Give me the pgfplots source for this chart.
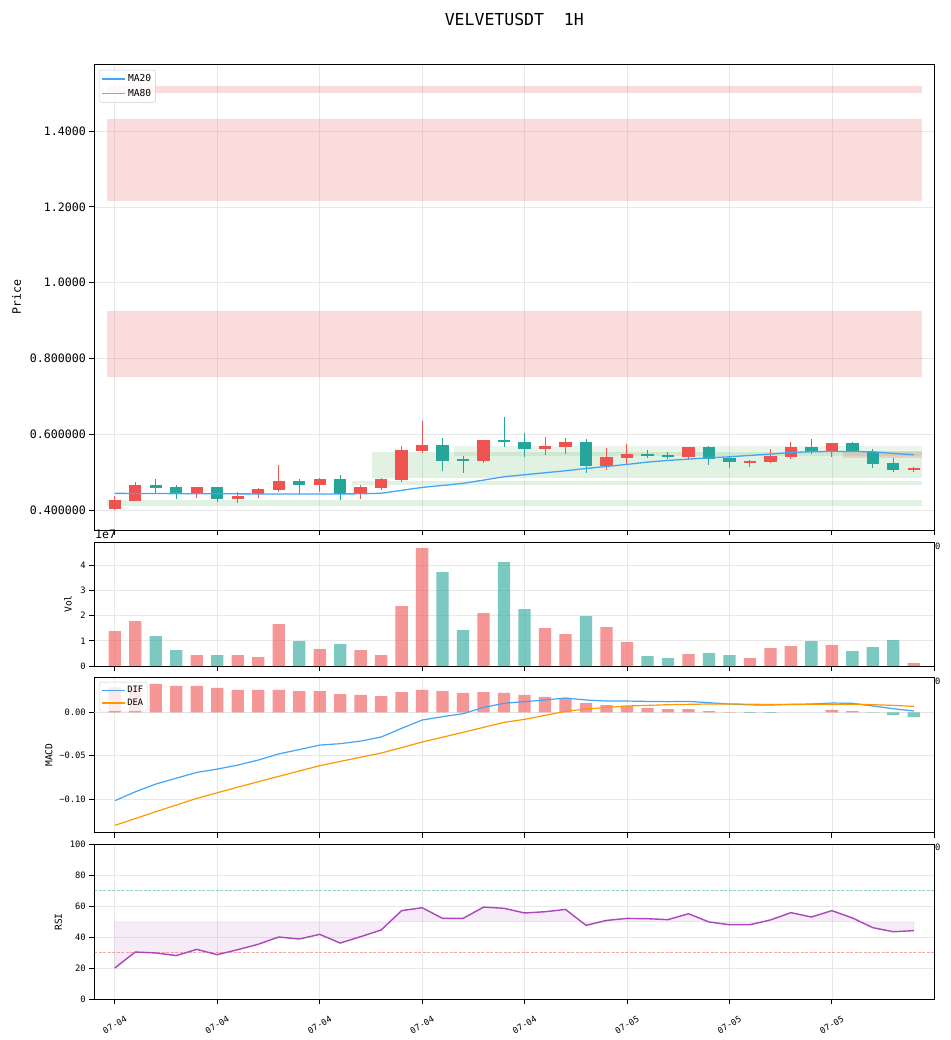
\documentclass[border=0pt]{standalone}
\usepackage{fontspec}
\setmainfont{DejaVu Sans Mono}
\usepackage{pgfplots}
\pgfplotsset{compat=1.18}
\definecolor{upc}{RGB}{239,83,80}
\definecolor{dnc}{RGB}{38,166,154}
\definecolor{mablue}{RGB}{66,165,245}
\definecolor{maorange}{RGB}{255,152,0}
\definecolor{rsic}{RGB}{171,71,188}
\definecolor{zgreen}{RGB}{76,175,80}
\definecolor{gridc}{RGB}{232,232,232}
\definecolor{legc}{RGB}{204,204,204}
\definecolor{zeroc}{RGB}{226,226,226}
\newcommand{\fs}[1]{\fontsize{#1}{#1}\selectfont}
\pgfplotsset{
  panel/.style={
    scale only axis, width=840pt, xmin=-1, xmax=40,
    axis line style={line width=1pt},
    tick align=outside, major tick length=5pt,
    tick style={black, line width=0.9pt},
    xtick pos=left, ytick pos=left,
    grid=major, grid style={line width=0.7pt, gridc},
    enlargelimits=false, clip=true,
    anchor=north west,
    axis background/.style={fill=white},
    yticklabel style={font=\fs{8.8}},
    legend cell align=left,
    legend image code/.code={\draw[##1] (0pt,0pt) -- (23pt,0pt);},
  },
}
\begin{document}
\begin{tikzpicture}
\path[use as bounding box] (0pt,0pt) rectangle (950pt,-1040pt);
% ---------------- PRICE ----------------
\begin{axis}[panel, at={(94.3pt,-64.3pt)}, height=465.7pt,
  ymin=0.3481, ymax=1.5759,
  xtick={0,5,...,40}, xticklabels={},
  ytick={0.4,0.6,0.8,1.0,1.2,1.4},
  yticklabels={0.400000,0.600000,0.800000,1.0000,1.2000,1.4000},
  yticklabel style={font=\fs{11.6}},
  legend style={at={(0.0056,0.988)}, anchor=north west, font=\fs{9.6}, draw=legc,
    rounded corners=2.5pt, fill=white, fill opacity=0.8, text opacity=1,
    row sep=2pt, inner sep=2.5pt},
]
% resistance zones
\addplot[forget plot, draw=none, fill=upc, fill opacity=0.2] coordinates {(-0.4,1.501) (39.4,1.501) (39.4,1.5186) (-0.4,1.5186)} -- cycle;
\addplot[forget plot, draw=none, fill=upc, fill opacity=0.2] coordinates {(-0.4,1.2154) (39.4,1.2154) (39.4,1.4324) (-0.4,1.4324)} -- cycle;
\addplot[forget plot, draw=none, fill=upc, fill opacity=0.2] coordinates {(-0.4,0.7522) (39.4,0.7522) (39.4,0.9254) (-0.4,0.9254)} -- cycle;
% support zones
\addplot[forget plot, draw=none, fill=zgreen, fill opacity=0.16] coordinates {(-0.4,0.4121) (39.4,0.4121) (39.4,0.4272) (-0.4,0.4272)} -- cycle;
\addplot[forget plot, draw=none, fill=zgreen, fill opacity=0.16] coordinates {(11.58,0.4675) (39.4,0.4675) (39.4,0.4773) (11.58,0.4773)} -- cycle;
\addplot[forget plot, draw=none, fill=zgreen, fill opacity=0.16] coordinates {(12.55,0.4852) (39.4,0.4852) (39.4,0.5537) (12.55,0.5537)} -- cycle;
\addplot[forget plot, draw=none, fill=zgreen, fill opacity=0.12] coordinates {(16.55,0.5432) (39.4,0.5432) (39.4,0.5695) (16.55,0.5695)} -- cycle;
\addplot[forget plot, draw=none, fill=upc, fill opacity=0.2] coordinates {(35.54,0.538) (39.4,0.538) (39.4,0.5563) (35.54,0.5563)} -- cycle;
% up wicks
\addplot[forget plot, upc, line width=1pt, unbounded coords=jump] coordinates {
(0,0.402) (0,0.438) (0,nan) (1,0.424) (1,0.475) (1,nan) (4,0.433) (4,0.462) (4,nan)
(6,0.420) (6,0.448) (6,nan) (7,0.433) (7,0.459) (7,nan) (8,0.448) (8,0.519) (8,nan)
(10,0.448) (10,0.486) (10,nan) (12,0.431) (12,0.467) (12,nan) (13,0.454) (13,0.486) (13,nan)
(14,0.475) (14,0.570) (14,nan) (15,0.552) (15,0.636) (15,nan) (18,0.525) (18,0.586) (18,nan)
(21,0.546) (21,0.593) (21,nan) (22,0.549) (22,0.590) (22,nan) (24,0.507) (24,0.564) (24,nan)
(25,0.523) (25,0.5745) (25,nan) (28,0.534) (28,0.567) (28,nan) (31,0.514) (31,0.5325) (31,nan)
(32,0.525) (32,0.561) (32,nan) (33,0.535) (33,0.580) (33,nan) (35,0.540) (35,0.577) (35,nan)
(39,0.501) (39,0.514)};
% down wicks
\addplot[forget plot, dnc, line width=1pt, unbounded coords=jump] coordinates {
(2,0.443) (2,0.482) (2,nan) (3,0.431) (3,0.467) (3,nan) (5,0.423) (5,0.462) (5,nan)
(9,0.443) (9,0.482) (9,nan) (11,0.428) (11,0.493) (11,nan) (16,0.504) (16,0.590) (16,nan)
(17,0.499) (17,0.543) (17,nan) (19,0.567) (19,0.646) (19,nan) (20,0.540) (20,0.603) (20,nan)
(23,0.499) (23,0.588) (23,nan) (26,0.538) (26,0.559) (26,nan) (27,0.535) (27,0.553) (27,nan)
(29,0.519) (29,0.569) (29,nan) (30,0.511) (30,0.543) (30,nan) (34,0.549) (34,0.588) (34,nan)
(36,0.553) (36,0.580) (36,nan) (37,0.512) (37,0.561) (37,nan) (38,0.502) (38,0.538)};
% up bodies
\addplot[forget plot, upc, line width=12.29pt, line cap=butt, unbounded coords=jump] coordinates {
(0,0.404) (0,0.427) (0,nan) (1,0.425) (1,0.467) (1,nan) (4,0.445) (4,0.461) (4,nan)
(6,0.429) (6,0.439) (6,nan) (7,0.443) (7,0.456) (7,nan) (8,0.453) (8,0.477) (8,nan)
(10,0.468) (10,0.482) (10,nan) (12,0.443) (12,0.461) (12,nan) (13,0.460) (13,0.482) (13,nan)
(14,0.480) (14,0.559) (14,nan) (15,0.557) (15,0.572) (15,nan) (18,0.531) (18,0.585) (18,nan)
(21,0.562) (21,0.569) (21,nan) (22,0.567) (22,0.580) (22,nan) (24,0.518) (24,0.540) (24,nan)
(25,0.5385) (25,0.548) (25,nan) (28,0.541) (28,0.567) (28,nan) (31,0.525) (31,0.5305) (31,nan)
(32,0.528) (32,0.543) (32,nan) (33,0.541) (33,0.567) (33,nan) (35,0.555) (35,0.577) (35,nan)
(39,0.506) (39,0.511)};
% down bodies
\addplot[forget plot, dnc, line width=12.29pt, line cap=butt, unbounded coords=jump] coordinates {
(2,0.467) (2,0.460) (2,nan) (3,0.461) (3,0.443) (3,nan) (5,0.461) (5,0.429) (5,nan)
(9,0.477) (9,0.468) (9,nan) (11,0.482) (11,0.443) (11,nan) (16,0.572) (16,0.531) (16,nan)
(17,0.534) (17,0.529) (17,nan) (19,0.585) (19,0.579) (19,nan) (20,0.580) (20,0.562) (20,nan)
(23,0.580) (23,0.518) (23,nan) (26,0.548) (26,0.5435) (26,nan) (27,0.5455) (27,0.541) (27,nan)
(29,0.567) (29,0.536) (29,nan) (30,0.538) (30,0.528) (30,nan) (34,0.567) (34,0.553) (34,nan)
(36,0.577) (36,0.556) (36,nan) (37,0.554) (37,0.523) (37,nan) (38,0.5245) (38,0.507)};
% MA20
\addplot[mablue, line width=1.3pt] coordinates {
(0,0.4447) (1,0.4445) (2,0.4442) (3,0.4440) (4,0.4438) (5,0.4436) (6,0.4434) (7,0.4432)
(8,0.4430) (9,0.4430) (10,0.4430) (11,0.4432) (12,0.4435) (13,0.4450) (14,0.4526) (15,0.4604)
(16,0.4657) (17,0.4710) (18,0.4797) (19,0.4885) (20,0.4938) (21,0.4990) (22,0.5043) (23,0.5104)
(24,0.5157) (25,0.5210) (26,0.5271) (27,0.5315) (28,0.5350) (29,0.5385) (30,0.5411) (31,0.5447)
(32,0.5482) (33,0.5526) (34,0.5543) (35,0.5552) (36,0.5552) (37,0.5543) (38,0.5499) (39,0.5464)};
\addlegendentry{MA20}
\addlegendimage{draw=maorange, solid, no markers, line width=1.3pt}
\addlegendentry{MA80}
\end{axis}
% ---------------- VOLUME ----------------
\begin{axis}[panel, at={(94.3pt,-542.3pt)}, height=123.7pt,
  ymin=0, ymax=4.913,
  xtick={0,5,...,40}, xticklabels={},
  ytick={0,1,2,3,4}, yticklabels={0,1,2,3,4},
]
\addplot[ybar, bar width=0.6, bar shift=0pt, fill=upc, fill opacity=0.6, draw=none] coordinates {
(0,1.389) (1,1.786) (4,0.437) (6,0.437) (7,0.357) (8,1.667) (10,0.675) (12,0.635) (13,0.437)
(14,2.381) (15,4.683) (18,2.103) (21,1.508) (22,1.270) (24,1.548) (25,0.952) (28,0.476)
(31,0.317) (32,0.714) (33,0.794) (35,0.833) (39,0.119)};
\addplot[ybar, bar width=0.6, bar shift=0pt, fill=dnc, fill opacity=0.6, draw=none] coordinates {
(2,1.190) (3,0.635) (5,0.437) (9,0.992) (11,0.873) (16,3.730) (17,1.429) (19,4.127) (20,2.262)
(23,1.984) (26,0.397) (27,0.317) (29,0.516) (30,0.437) (34,0.992) (36,0.595) (37,0.754) (38,1.032)};
\end{axis}
% ---------------- MACD ----------------
\begin{axis}[panel, at={(94.3pt,-677.3pt)}, height=155.4pt,
  ymin=-0.1389, ymax=0.0404,
  xtick={0,5,...,40}, xticklabels={},
  ytick={-0.1,-0.05,0}, yticklabels={−0.10,−0.05,0.00},
  legend style={at={(0.0056,0.97)}, anchor=north west, font=\fs{8.8}, draw=legc,
    rounded corners=2.5pt, fill=white, fill opacity=0.8, text opacity=1,
    row sep=1pt, inner sep=2pt},
]
\addplot[forget plot, draw=zeroc, line width=1.3pt] coordinates {(-1,0) (40,0)};
\addplot[forget plot, ybar, bar width=0.6, bar shift=0pt, fill=upc, fill opacity=0.6, draw=none] coordinates {
(0,0.0289) (1,0.0318) (2,0.0327) (3,0.0306) (4,0.0305) (5,0.0281) (6,0.0258) (7,0.0258)
(8,0.0258) (9,0.0246) (10,0.0246) (11,0.0211) (12,0.0200) (13,0.0188) (14,0.0234) (15,0.0258)
(16,0.0246) (17,0.0223) (18,0.0234) (19,0.0223) (20,0.0200) (21,0.0177) (22,0.0165) (23,0.0107)
(24,0.0084) (25,0.0073) (26,0.0050) (27,0.0038) (28,0.0038) (29,0.0015) (30,0.0003)
(35,0.0027) (36,0.0015)};
\addplot[forget plot, ybar, bar width=0.6, bar shift=0pt, fill=dnc, fill opacity=0.6, draw=none] coordinates {
(31,-0.0005) (32,-0.0005) (37,-0.0004) (38,-0.0031) (39,-0.0054)};
\addplot[mablue, line width=1.2pt] coordinates {
(0,-0.1020) (1,-0.0917) (2,-0.0828) (3,-0.0760) (4,-0.0693) (5,-0.0655) (6,-0.0609) (7,-0.0551)
(8,-0.0480) (9,-0.0430) (10,-0.0378) (11,-0.0362) (12,-0.0332) (13,-0.0285) (14,-0.0185) (15,-0.0089)
(16,-0.0050) (17,-0.0016) (18,0.0057) (19,0.0104) (20,0.0123) (21,0.0142) (22,0.0165) (23,0.0142)
(24,0.0130) (25,0.0130) (26,0.0126) (27,0.0123) (28,0.0126) (29,0.0111) (30,0.0096) (31,0.0086)
(32,0.0084) (33,0.0092) (34,0.0096) (35,0.0107) (36,0.0104) (37,0.0073) (38,0.0042) (39,0.0015)};
\addlegendentry{DIF}
\addplot[maorange, line width=1.2pt] coordinates {
(0,-0.1305) (1,-0.1226) (2,-0.1147) (3,-0.1070) (4,-0.0993) (5,-0.0928) (6,-0.0864) (7,-0.0801)
(8,-0.0739) (9,-0.0677) (10,-0.0616) (11,-0.0567) (12,-0.0518) (13,-0.0470) (14,-0.0407) (15,-0.0343)
(16,-0.0287) (17,-0.0231) (18,-0.0173) (19,-0.0116) (20,-0.0081) (21,-0.0035) (22,0.0011) (23,0.0038)
(24,0.0057) (25,0.0073) (26,0.0080) (27,0.0088) (28,0.0092) (29,0.0096) (30,0.0096) (31,0.0094)
(32,0.0090) (33,0.0090) (34,0.0092) (35,0.0094) (36,0.0094) (37,0.0088) (38,0.0080) (39,0.0069)};
\addlegendentry{DEA}
\end{axis}
% ---------------- RSI ----------------
\begin{axis}[panel, at={(94.3pt,-844.3pt)}, height=155pt,
  ymin=0, ymax=100,
  xtick={0,5,...,35},
  xticklabels={07-04,07-04,07-04,07-04,07-04,07-05,07-05,07-05},
  xticklabel style={font=\fs{8.6}, rotate=30, anchor=center, xshift=-10.3pt, yshift=-17.8pt},
  ytick={0,20,...,100}, yticklabels={0,20,40,60,80,100},
]
\addplot[forget plot, fill=rsic, fill opacity=0.1, draw=rsic, draw opacity=0.12, line width=0.8pt] coordinates {
(0,50) (0,20.2) (1,30.5) (2,29.9) (3,28.2) (4,32.2) (5,28.8) (6,32.0) (7,35.5) (8,40.2) (9,38.9)
(10,41.9) (11,36.3) (12,40.4) (13,44.7) (14,57.2) (15,59.1) (16,52.2) (17,52.2) (18,59.5) (19,58.7)
(20,55.7) (21,56.5) (22,58.0) (23,47.7) (24,50.9) (25,52.2) (26,52.0) (27,51.4) (28,55.2) (29,49.9)
(30,48.1) (31,48.1) (32,51.2) (33,55.9) (34,53.1) (35,57.2) (36,52.5) (37,46.2) (38,43.6) (39,44.3) (39,50)} -- cycle;
\addplot[forget plot, dnc, draw opacity=0.5, line width=0.7pt, dash pattern=on 3pt off 1.5pt] coordinates {(-1,70) (40,70)};
\addplot[forget plot, upc, draw opacity=0.5, line width=0.7pt, dash pattern=on 3pt off 1.5pt] coordinates {(-1,30) (40,30)};
\addplot[rsic, line width=1.4pt] coordinates {
(0,20.2) (1,30.5) (2,29.9) (3,28.2) (4,32.2) (5,28.8) (6,32.0) (7,35.5) (8,40.2) (9,38.9)
(10,41.9) (11,36.3) (12,40.4) (13,44.7) (14,57.2) (15,59.1) (16,52.2) (17,52.2) (18,59.5) (19,58.7)
(20,55.7) (21,56.5) (22,58.0) (23,47.7) (24,50.9) (25,52.2) (26,52.0) (27,51.4) (28,55.2) (29,49.9)
(30,48.1) (31,48.1) (32,51.2) (33,55.9) (34,53.1) (35,57.2) (36,52.5) (37,46.2) (38,43.6) (39,44.3)};
\end{axis}
% ---------------- texts ----------------
\node[font=\fs{16.5}] at (514.3pt,-19pt) {VELVETUSDT\ \ 1H};
\node[rotate=90, font=\fs{11.6}] at (16.5pt,-297pt) {Price};
\node[rotate=90, font=\fs{9.6}] at (68pt,-604pt) {Vol};
\node[rotate=90, font=\fs{9.6}] at (49pt,-755pt) {MACD};
\node[rotate=90, font=\fs{9.6}] at (58.3pt,-922pt) {RSI};
\node[anchor=north west, inner sep=0pt, font=\fs{11.6}] at (95pt,-529.5pt) {1e7};
\node[anchor=west, inner sep=0pt, font=\fs{8.8}] at (934.8pt,-546.5pt) {0};
\node[anchor=west, inner sep=0pt, font=\fs{8.8}] at (934.8pt,-681pt) {0};
\node[anchor=west, inner sep=0pt, font=\fs{8.8}] at (934.8pt,-847pt) {0};
\end{tikzpicture}
\end{document}
